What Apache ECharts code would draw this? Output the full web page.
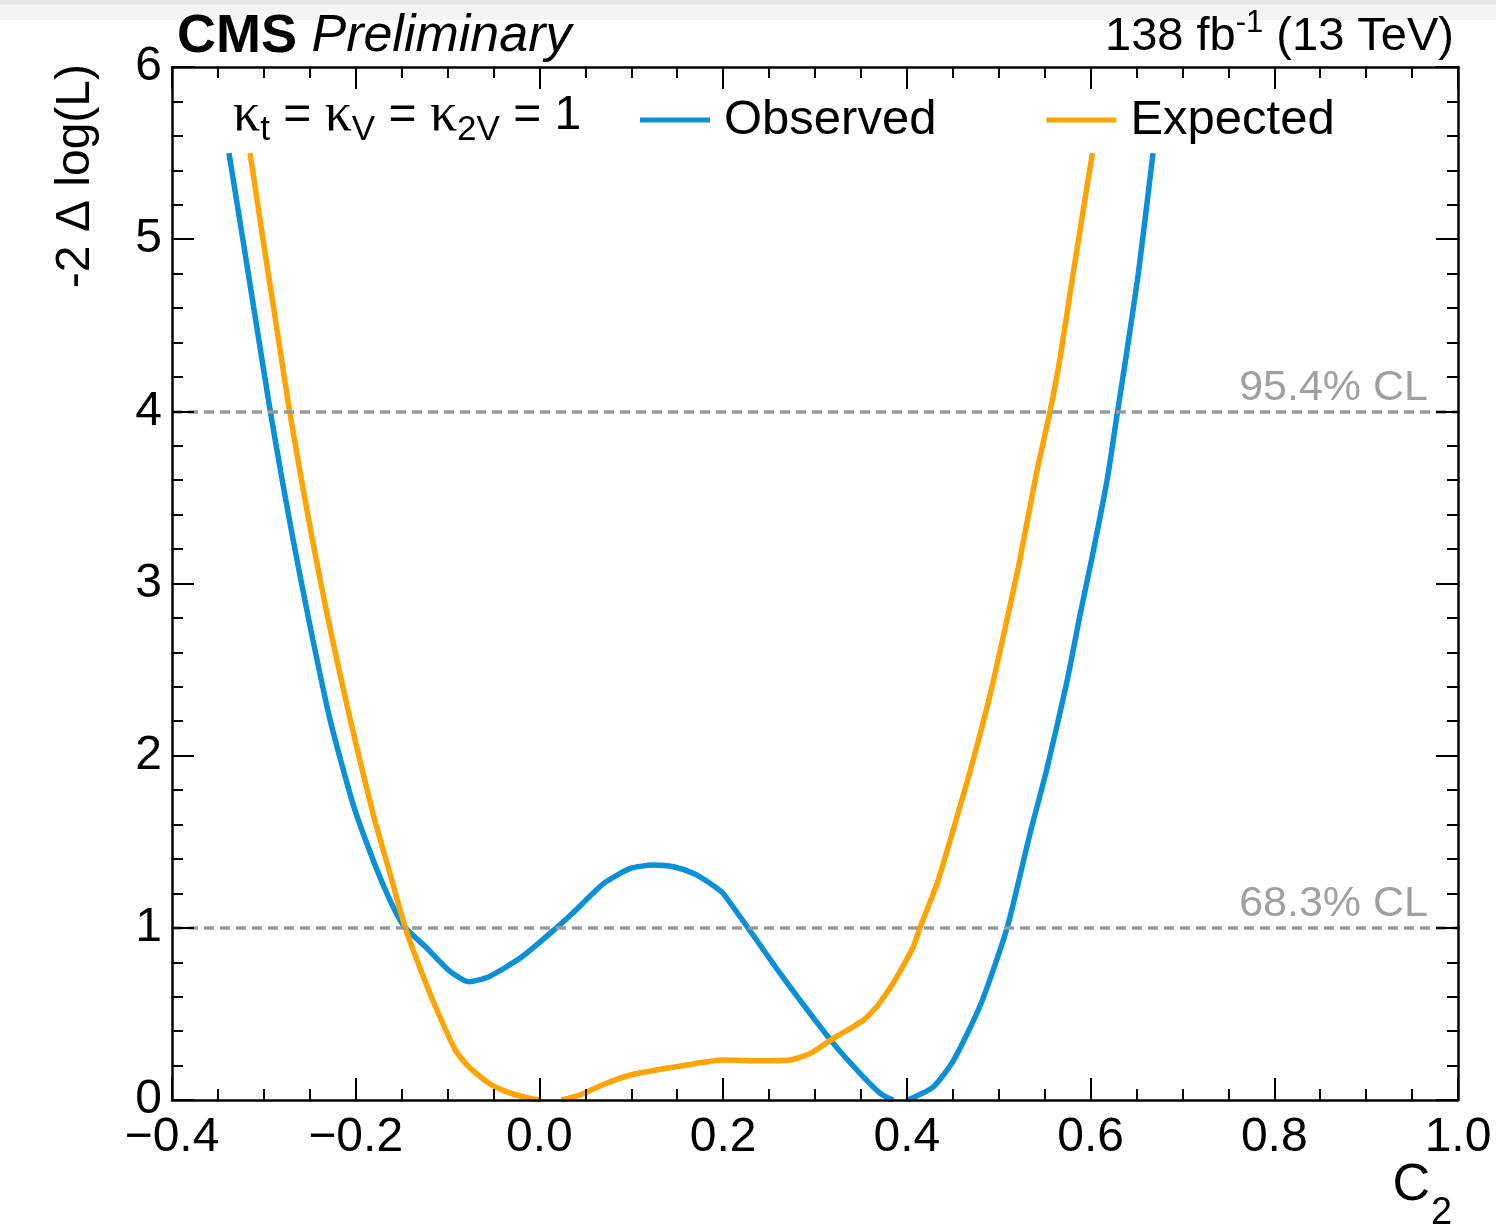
<!DOCTYPE html>
<html>
<head>
<meta charset="utf-8">
<title>C2 likelihood scan</title>
<script src="https://cdn.jsdelivr.net/npm/echarts@6/dist/echarts.min.js"></script>
<style>
  html, body { margin: 0; padding: 0; background: #ffffff; }
  #chart { width: 1496px; height: 1228px; }
</style>
</head>
<body>
<div id="chart"></div>
<script>
// Profile likelihood scan of c2 (kt = kV = k2V = 1)
const FONT = '"Liberation Sans", Arial, Helvetica, sans-serif';
const SERIF = '"Liberation Serif", "DejaVu Serif", serif';

// Observed scan: c2 values and -2 Δ log(L); null marks the stretch hidden along the x axis
const obsC2 = [-0.338, -0.322, -0.308, -0.293, -0.280, -0.268, -0.250, -0.228, -0.203, -0.180,
               -0.160, -0.146, -0.124, -0.099, -0.077, -0.055, -0.019, 0.022, 0.036, 0.070,
               0.099, 0.124, 0.146, 0.168, 0.186, 0.200, 0.262, 0.320, 0.349, 0.371,
               0.385, 0.393, 0.401, 0.429, 0.451, 0.480, 0.509, 0.534, 0.552, 0.574,
               0.589, 0.601, 0.618, 0.628, 0.639, 0.652, 0.668];
const obsNLL = [5.50, 4.97, 4.50, 4.00, 3.60, 3.25, 2.76, 2.21, 1.72, 1.38,
                1.13, 1.00, 0.89, 0.755, 0.687, 0.716, 0.832, 1.016, 1.084, 1.258,
                1.345, 1.365, 1.355, 1.316, 1.258, 1.200, 0.736, 0.329, 0.155, 0.039,
                0.0, null, 0.0, 0.077, 0.232, 0.55, 0.997, 1.546, 1.913, 2.423,
                2.83, 3.136, 3.60, 3.95, 4.33, 4.80, 5.50];

// Expected (Asimov) scan
const expC2 = [-0.315, -0.301, -0.287, -0.272, -0.259, -0.247, -0.230, -0.206, -0.181, -0.163,
               -0.146, -0.131, -0.113, -0.0915, -0.077, -0.055, -0.037, -0.015, 0.000, 0.012,
               0.024, 0.044, 0.073, 0.099, 0.149, 0.200, 0.247, 0.273, 0.295, 0.320,
               0.335, 0.353, 0.364, 0.371, 0.385, 0.396, 0.407, 0.414, 0.433, 0.447,
               0.469, 0.491, 0.509, 0.523, 0.541, 0.556, 0.567, 0.581, 0.602];
const expNLL = [5.50, 5.00, 4.52, 4.00, 3.60, 3.25, 2.79, 2.21, 1.66, 1.32,
                1.00, 0.78, 0.54, 0.29, 0.193, 0.097, 0.050, 0.015, 0.0, null,
                0.0, 0.029, 0.097, 0.145, 0.193, 0.232, 0.228, 0.232, 0.271, 0.358,
                0.405, 0.465, 0.523, 0.569, 0.678, 0.78, 0.89, 0.997, 1.258, 1.506,
                1.913, 2.362, 2.79, 3.136, 3.639, 4.003, 4.316, 4.80, 5.50];

// Confidence-level reference lines
const clLevels = [1, 4];
const clNames = ['68.3% CL', '95.4% CL'];

const seriesNames = ['Observed', 'Expected'];
const seriesColors = ['#0a8fd9', '#ffa300'];

function pairs(xs, ys) {
  return xs.map((x, i) => [x, ys[i] === null ? '-' : ys[i]]);
}

const chart = echarts.init(document.getElementById('chart'), null, { renderer: 'canvas' });

const frameLine = { show: true, onZero: false, lineStyle: { color: '#000', width: 2.5 } };
const xTick = { show: true, inside: true, length: 22, lineStyle: { color: '#000', width: 2 } };
const xMinor = { show: true, splitNumber: 4, length: 11, lineStyle: { color: '#000', width: 2 } };
const yTick = { show: true, inside: true, length: 22, lineStyle: { color: '#000', width: 2 } };
const yMinor = { show: true, splitNumber: 5, length: 11, lineStyle: { color: '#000', width: 2 } };

function fmtX(v) {
  const a = Math.abs(v).toFixed(1);
  return (v < -1e-9 ? '\u2212' : '') + a;
}

const option = {
  backgroundColor: '#ffffff',
  animation: false,
  grid: { left: 172, right: 38, top: 67, bottom: 128, containLabel: false },
  legend: {
    data: seriesNames,
    left: 640,
    top: 95,
    padding: 0,
    icon: 'rect',
    itemWidth: 70,
    itemHeight: 5,
    itemGap: 110,
    textStyle: { fontFamily: FONT, fontSize: 49, color: '#000', lineHeight: 50, padding: [0, 0, 0, 9] }
  },
  xAxis: [
    {
      type: 'value', position: 'bottom', min: -0.4, max: 1.0, interval: 0.2, z: 10,
      axisLine: frameLine, axisTick: xTick, minorTick: xMinor,
      splitLine: { show: false }, minorSplitLine: { show: false },
      axisLabel: { show: true, margin: 14, fontFamily: FONT, fontSize: 48, color: '#000',
                   showMinLabel: true, showMaxLabel: true, formatter: fmtX }
    },
    {
      type: 'value', position: 'top', min: -0.4, max: 1.0, interval: 0.2, z: 10,
      axisLine: frameLine, axisTick: xTick, minorTick: xMinor,
      splitLine: { show: false }, minorSplitLine: { show: false },
      axisLabel: { show: false }
    }
  ],
  yAxis: [
    {
      type: 'value', position: 'left', min: 0, max: 6, interval: 1, z: 10,
      axisLine: frameLine, axisTick: yTick, minorTick: yMinor,
      splitLine: { show: false }, minorSplitLine: { show: false },
      axisLabel: { show: true, margin: 10, fontFamily: FONT, fontSize: 48, color: '#000',
                   showMinLabel: true, showMaxLabel: true }
    },
    {
      type: 'value', position: 'right', min: 0, max: 6, interval: 1, z: 10,
      axisLine: frameLine, axisTick: yTick, minorTick: yMinor,
      splitLine: { show: false }, minorSplitLine: { show: false },
      axisLabel: { show: false }
    }
  ],
  series: [
    {
      name: seriesNames[0], type: 'line', xAxisIndex: 0, yAxisIndex: 0,
      data: pairs(obsC2, obsNLL), showSymbol: false, connectNulls: false,
      smooth: 0.2, z: 3,
      color: seriesColors[0],
      lineStyle: { color: seriesColors[0], width: 5.5 },
      markLine: {
        silent: true, symbol: 'none', animation: false,
        lineStyle: { color: '#9a9a9a', width: 3.5, type: [10, 6] },
        label: {
          show: true, position: 'insideEndTop', distance: [30, 2],
          fontFamily: FONT, fontSize: 43, color: '#a0a0a0',
          formatter: p => clNames[clLevels.indexOf(p.value)]
        },
        data: clLevels.map(v => ({ yAxis: v }))
      }
    },
    {
      name: seriesNames[1], type: 'line', xAxisIndex: 0, yAxisIndex: 0,
      data: pairs(expC2, expNLL), showSymbol: false, connectNulls: false,
      smooth: 0.2, z: 4,
      color: seriesColors[1],
      lineStyle: { color: seriesColors[1], width: 5.5 }
    }
  ],
  graphic: [
    { type: 'rect', silent: true, z: -10, shape: { x: 0, y: 0, width: 1496, height: 20 }, style: { fill: '#f4f4f4' } },
    { type: 'rect', silent: true, z: -9, shape: { x: 0, y: 0, width: 1496, height: 5 }, style: { fill: '#e6e6e6' } },
    {
      type: 'text', silent: true, z: 20,
      style: {
        x: 177, y: 37, align: 'left', verticalAlign: 'middle',
        text: '{b|CMS} {i|Preliminary}',
        rich: {
          b: { fontFamily: FONT, fontSize: 54, fontWeight: 'bold', fill: '#000' },
          i: { fontFamily: FONT, fontSize: 52, fontStyle: 'italic', fill: '#000' }
        },
        font: '52px ' + FONT, fill: '#000'
      }
    },
    {
      type: 'text', silent: true, z: 20,
      style: {
        x: 1454, y: 37, align: 'right', verticalAlign: 'middle',
        text: '{n|138 fb}{p|-1}{n| (13 TeV)}',
        rich: {
          n: { fontFamily: FONT, fontSize: 47, lineHeight: 58, fill: '#000' },
          p: { fontFamily: FONT, fontSize: 31, lineHeight: 31, verticalAlign: 'top', fill: '#000' }
        },
        font: '47px ' + FONT, fill: '#000'
      }
    },
    {
      type: 'text', silent: true, z: 20,
      style: {
        x: 233, y: 116, align: 'left', verticalAlign: 'middle',
        text: '{k|κ}{s|t}{n| = }{k|κ}{s|V}{n| = }{k|κ}{s|2V}{n| = 1}',
        rich: {
          k: { fontFamily: SERIF, fontSize: 54, lineHeight: 64, fill: '#000' },
          n: { fontFamily: FONT, fontSize: 48, lineHeight: 64, fill: '#000' },
          s: { fontFamily: FONT, fontSize: 35, lineHeight: 35, verticalAlign: 'bottom', fill: '#000' }
        },
        font: '48px ' + FONT, fill: '#000'
      }
    },
    {
      type: 'text', silent: true, z: 20,
      x: 76, y: 64, rotation: Math.PI / 2,
      style: {
        x: 0, y: 0, align: 'right', verticalAlign: 'middle',
        text: '-2 Δ log(L)',
        font: '48px ' + FONT, fill: '#000'
      }
    },
    {
      type: 'text', silent: true, z: 20,
      style: {
        x: 1430, y: 1186, align: 'right', verticalAlign: 'middle',
        text: 'C', font: '52px ' + FONT, fill: '#000'
      }
    },
    {
      type: 'text', silent: true, z: 20,
      style: {
        x: 1431, y: 1214, align: 'left', verticalAlign: 'middle',
        text: '2', font: '38px ' + FONT, fill: '#000'
      }
    }
  ]
};

chart.setOption(option);
</script>
</body>
</html>
